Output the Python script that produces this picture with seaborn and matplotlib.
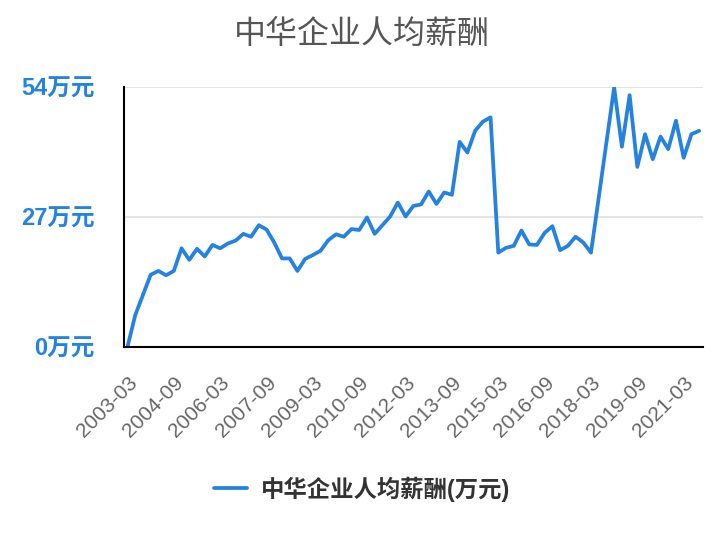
import pandas as pd
import seaborn as sns
from matplotlib import pyplot as plt

# quarterly average salary (万元), 2003-03 .. 2021-09
salary = [0, 6.6, 10.8, 15.0, 15.8, 14.9, 15.8, 20.5, 18.1, 20.4,
          18.8, 21.2, 20.5, 21.5, 22.1, 23.5, 22.9, 25.3, 24.4, 21.7,
          18.4, 18.4, 15.8, 18.3, 19.1, 20.0, 22.2, 23.4, 22.9, 24.5,
          24.3, 26.9, 23.5, 25.3, 27.1, 30.0, 27.1, 29.3, 29.6, 32.3,
          29.7, 32.1, 31.6, 42.6, 40.4, 44.9, 46.8, 47.7, 19.6, 20.6,
          21.0, 24.2, 21.3, 21.2, 23.7, 25.1, 20.1, 21.0, 22.9, 21.7,
          19.6, 31.0, 42.5, 53.9, 41.6, 52.3, 37.4, 44.2, 39.0, 43.7,
          41.1, 47.0, 39.3, 44.2, 44.9]
dates = pd.date_range('2003-03-01', periods=len(salary), freq='3MS').strftime('%Y-%m').tolist()
yticks = [0, 27, 54]

df = pd.DataFrame({'pos': range(len(salary)), 'date': dates, 'salary': salary})

sns.set_style('white')
fams = ['Liberation Sans', 'Noto Sans CJK SC', 'DejaVu Sans']
plt.rcParams['font.family'] = fams

blue = '#2382e2'
fig = plt.figure(figsize=(7.24, 5.4), dpi=100)
ax = fig.add_axes([124/724, 1-347/540, (703-124)/724, (347-87)/540])

sns.lineplot(data=df, x='pos', y='salary', color=blue, linewidth=2.7,
             label='中华企业人均薪酬(万元)', legend=False, ax=ax)

ax.set_xlim(-0.45, 74.5)
ax.set_ylim(0, 54)
ax.set_yticks(yticks)
ax.set_yticklabels([f'{v}万元' for v in yticks], color=blue, fontsize=17, fontweight='bold')
ax.yaxis.grid(True, color='#e2e2e2', linewidth=1.3)
ax.set_axisbelow(True)

xt = list(range(0, len(dates), 6))
ax.set_xticks(xt)
ax.set_xticklabels([dates[i] for i in xt], rotation=45, ha='right',
                   rotation_mode='anchor', color='#666666', fontsize=15)
ax.tick_params(axis='y', length=14, width=1.5, color='black', pad=7)
ax.tick_params(axis='x', length=13, width=1.5, color='black', pad=6)
ax.set_xlabel('')
ax.set_ylabel('')

for s in ['top', 'right']:
    ax.spines[s].set_visible(False)
for s in ['left', 'bottom']:
    ax.spines[s].set_color('black')
    ax.spines[s].set_linewidth(1.5)

fig.suptitle('中华企业人均薪酬', y=1-34/540, va='center', fontsize=23, color='#555555',
             family=['Noto Sans CJK SC', 'DejaVu Sans'])

h, l = ax.get_legend_handles_labels()
fig.legend(h, l, loc='center', bbox_to_anchor=(0.5, 1-489/540), frameon=False,
           handlelength=1.4, handletextpad=0.6,
           prop={'size': 16.8, 'weight': 'bold', 'family': fams},
           labelcolor='#333333')

fig.savefig('out.png', dpi=100)
